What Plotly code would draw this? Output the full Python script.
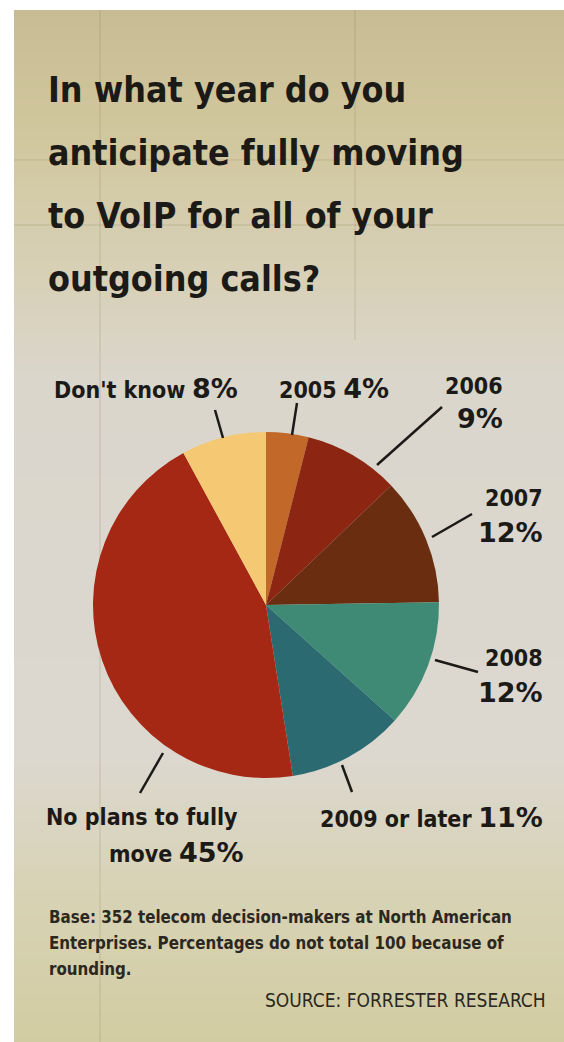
import plotly.graph_objects as go

# ---------------- data ----------------
categories = ["2005", "2006", "2007", "2008", "2009 or later",
              "No plans to fully move", "Don't know"]
values = [4, 9, 12, 12, 11, 45, 8]
title_lines = ["In what year do you", "anticipate fully moving",
               "to VoIP for all of your", "outgoing calls?"]
footnote_lines = ["Base: 352 telecom decision-makers at North American",
                  "Enterprises. Percentages do not total 100 because of",
                  "rounding."]
source_text = "SOURCE: FORRESTER RESEARCH"

# ---------------- styles / layout ----------------
W, H = 564, 1042
slice_colors = ["#c2692a", "#8c2612", "#6b2d10", "#3f8a74", "#2c6a72",
                "#a42813", "#f5c874"]
COND = "DejaVu Sans Condensed, Liberation Sans Narrow, Arial Narrow, sans-serif"
WIDE = "DejaVu Sans, Verdana, sans-serif"
INK = "#1c1a17"

def px(x):
    return x / W

def py(y):
    return 1 - y / H

cx, cy, r = 266, 605, 173

fig = go.Figure()
fig.add_trace(go.Pie(
    labels=categories, values=values, sort=False, direction="clockwise",
    rotation=0, marker=dict(colors=slice_colors, line=dict(width=0)),
    textinfo="none", hoverinfo="label+value", showlegend=False,
    domain=dict(x=[px(cx - r), px(cx + r)], y=[py(cy + r), py(cy - r)]),
))

shapes = []
# background panel as stacked gradient bands
stops = [(10, (200, 188, 148)), (120, (208, 198, 156)), (280, (216, 209, 184)),
         (380, (218, 214, 204)), (750, (220, 216, 208)), (880, (216, 211, 182)),
         (1042, (210, 204, 162))]
band = 6
y = 10
while y < H:
    for (y0, c0), (y1, c1) in zip(stops[:-1], stops[1:]):
        if y0 <= y < y1:
            t = (y - y0) / (y1 - y0)
            c = tuple(int(round(a + (b - a) * t)) for a, b in zip(c0, c1))
            break
    shapes.append(dict(type="rect", xref="paper", yref="paper", layer="below",
                       x0=px(14), x1=1, y0=py(min(y + band + 1, H)), y1=py(y),
                       fillcolor="rgb(%d,%d,%d)" % c, line=dict(width=0)))
    y += band

# faint paper folds
for (x0, y0, x1, y1) in [(100, 10, 100, 1042), (355, 10, 355, 340),
                         (14, 160, 564, 160), (14, 225, 564, 225)]:
    shapes.append(dict(type="line", xref="paper", yref="paper", layer="below",
                       x0=px(x0), x1=px(x1), y0=py(y0), y1=py(y1),
                       line=dict(color="rgba(120,105,70,0.22)", width=1)))

# leader lines (pixel endpoints: outer, inner)
leaders = [((215, 410), (223, 438)), ((297, 403), (292, 435)),
           ((442, 407), (377, 465)), ((472, 514), (432, 537)),
           ((478, 672), (435, 660)), ((352, 792), (342, 765)),
           ((140, 793), (163, 753))]
for (a, b) in leaders:
    shapes.append(dict(type="line", xref="paper", yref="paper",
                       x0=px(a[0]), y0=py(a[1]), x1=px(b[0]), y1=py(b[1]),
                       line=dict(color=INK, width=2.5)))

ann = []

def text(x, y, s, size, anchor="left", family=COND, color=INK):
    ann.append(dict(x=px(x), y=py(y), xref="paper", yref="paper", text=s,
                    showarrow=False, xanchor=anchor, yanchor="middle",
                    align=anchor if anchor != "center" else "center",
                    font=dict(family=family, size=size, color=color)))

# title
for i, line in enumerate(title_lines):
    text(46, 89 + 63 * i, "<b>%s</b>" % line, 35.5)

def pct(v, size=27):
    return "<span style='font-family:%s;font-size:%dpx'><b>%d%%</b></span>" % (WIDE, size, v)

lab = 23
text(52, 388, "<b>Don't know</b> " + pct(values[6]), lab)
text(277, 388, "<b>2005</b> " + pct(values[0]), lab)
text(505, 386, "<b>2006</b>", lab, "right")
text(505, 419, pct(values[1]), lab, "right")
text(545, 498, "<b>2007</b>", lab, "right")
text(545, 532, pct(values[2]), lab, "right")
text(545, 658, "<b>2008</b>", lab, "right")
text(545, 692, pct(values[3]), lab, "right")
text(545, 817, "<b>2009 or later</b> " + pct(values[4]), lab, "right")
text(240, 817, "<b>No plans to fully</b>", lab, "right")
text(246, 852, "<b>move</b> " + pct(values[5]), lab, "right")

# footnote
for i, line in enumerate(footnote_lines):
    text(47, 917 + 26 * i, "<b>%s</b>" % line, 16.8, color="#2a2820")
text(548, 1000, source_text, 19, "right", color="#2a2820")

fig.update_layout(
    width=W, height=H, autosize=False,
    margin=dict(l=0, r=0, t=0, b=0),
    paper_bgcolor="white", plot_bgcolor="white",
    shapes=shapes, annotations=ann,
)
fig.write_html("out.html")
